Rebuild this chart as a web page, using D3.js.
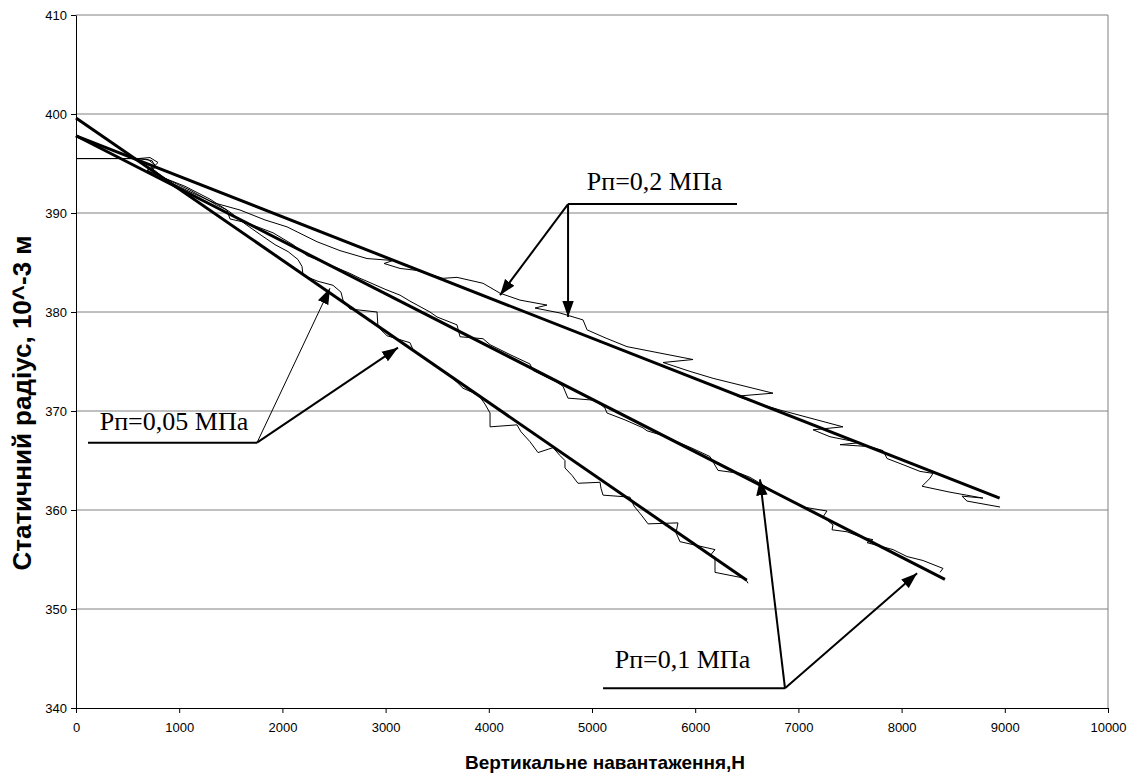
<!DOCTYPE html>
<html>
<head>
<meta charset="utf-8">
<script src="https://cdn.jsdelivr.net/npm/d3@7"></script>
<style>
  body { margin: 0; background: #fff; }
  text { font-family: Arial, "Liberation Sans", sans-serif; }
</style>
</head>
<body>
<svg id="chart" width="1136" height="776"></svg>
<script>
// axis ticks
const xTicks = [0, 1000, 2000, 3000, 4000, 5000, 6000, 7000, 8000, 9000, 10000];
const yTicks = [340, 350, 360, 370, 380, 390, 400, 410];

// regression lines [load N, radius 10^-3 m]
const fit005 = [[0, 399.6], [6500, 352.9]];
const fit01 = [[0, 397.8], [8420, 353.0]];
const fit02 = [[0, 397.8], [8950, 361.2]];

const meas005 = [
  [0, 395.5], [601, 395.5], [736, 395.3], [775, 394.6], [688, 394.3], [814, 393.7],
  [1056, 392.7], [1298, 391.4], [1492, 390.1], [1638, 388.9], [1802, 387.7], [1929, 386.8],
  [2055, 386.1], [2151, 385.3], [2190, 384.6], [2200, 383.7], [2345, 383.1], [2490, 382.7],
  [2568, 382.0], [2587, 381.2], [2655, 380.3], [2917, 380.0], [2926, 378.5], [3014, 377.6],
  [3236, 376.9], [3266, 376.2], [3372, 375.4], [3498, 374.4], [3624, 373.5], [3692, 372.9],
  [3750, 372.3], [3837, 371.9], [3915, 371.4], [3963, 370.7], [4012, 369.8], [4012, 368.4],
  [4273, 368.6], [4312, 367.9], [4399, 366.9], [4477, 365.8], [4622, 366.3], [4690, 365.5],
  [4738, 365.0], [4738, 364.25], [4806, 363.5], [4864, 362.7], [5078, 362.8], [5087, 362.2],
  [5107, 361.5], [5368, 361.3], [5407, 360.4], [5485, 359.4], [5543, 358.6], [5833, 358.7],
  [5814, 357.7], [5853, 356.8], [6192, 356.0], [6153, 355.5], [6192, 355.2], [6192, 353.7],
  [6337, 353.4], [6483, 353.1], [6512, 352.6]
];
const meas01 = [
  [0, 395.5], [601, 395.5], [698, 395.4], [766, 394.85], [688, 394.3], [862, 393.5],
  [1105, 392.3], [1366, 390.8], [1463, 390.3], [1492, 389.4], [1657, 389.0], [1909, 388.0],
  [2103, 386.8], [2238, 385.7], [2335, 385.3], [2587, 384.2], [2655, 383.9], [2752, 383.4],
  [2820, 383.1], [2994, 382.3], [3140, 381.7], [3236, 381.1], [3430, 380.0], [3498, 379.5],
  [3692, 378.7], [3721, 377.5], [3944, 377.3], [4012, 376.7], [4205, 375.7], [4399, 374.75],
  [4428, 374.1], [4661, 372.9], [4719, 372.5], [4767, 371.3], [5010, 371.1], [5078, 370.7],
  [5126, 370.3], [5145, 369.8], [5320, 369.1], [5494, 368.3], [5533, 368.0], [5727, 367.4],
  [5824, 366.9], [5979, 366.2], [6143, 365.4], [6221, 364.0], [6434, 363.7], [6531, 363.3],
  [6628, 362.7], [6851, 361.3], [6919, 361.0], [7045, 360.3], [7277, 359.9], [7238, 359.3],
  [7335, 358.5], [7326, 358.0], [7471, 357.8], [7597, 357.3], [7723, 357.0], [7665, 356.7],
  [7917, 356.0], [8052, 355.3], [8207, 354.9], [8401, 354.1], [8372, 353.7]
];
const meas02 = [
  [0, 395.5], [601, 395.5], [717, 395.6], [795, 395.1], [736, 394.5], [911, 393.1],
  [1134, 392.0], [1347, 391.0], [1589, 390.3], [1831, 389.3], [2045, 388.6], [2335, 387.1],
  [2558, 386.2], [2820, 385.4], [3072, 385.2], [2985, 384.9], [3140, 384.4], [3304, 384.2],
  [3556, 383.4], [3692, 383.5], [3944, 382.9], [4109, 381.9], [4302, 381.2], [4564, 380.7],
  [4448, 380.4], [4690, 379.9], [4913, 379.2], [4952, 378.2], [5126, 377.4], [5339, 376.5],
  [5979, 375.2], [5688, 374.9], [5950, 374.0], [6173, 373.3], [6754, 371.8], [6405, 371.5],
  [6628, 370.7], [6822, 370.1], [7432, 368.4], [7142, 368.1], [7306, 367.4], [7597, 366.8],
  [7403, 366.6], [7694, 366.4], [7820, 366.0], [7859, 365.2], [8033, 364.5], [8178, 363.9],
  [8304, 363.7], [8275, 363.2], [8198, 362.4], [8469, 361.8], [8789, 361.2], [8585, 361.4],
  [8634, 360.9], [8954, 360.3]
];

const labels = ['Рп=0,05 МПа', 'Рп=0,1 МПа', 'Рп=0,2 МПа'];

const svg = d3.select('#chart');
const margin = { top: 15, right: 28, bottom: 68, left: 76 };
const width = 1136 - margin.left - margin.right;
const height = 776 - margin.top - margin.bottom;

const x = d3.scaleLinear().domain([0, 10000]).range([0, width]);
const y = d3.scaleLinear().domain([340, 410]).range([height, 0]);

const g = svg.append('g')
    .attr('transform', `translate(${margin.left},${margin.top})`);

// grid
g.append('g')
    .selectAll('line')
    .data(yTicks.slice(1))
    .enter()
    .append('line')
        .attr('x1', 0)
        .attr('x2', width)
        .attr('y1', d => y(d))
        .attr('y2', d => y(d))
        .attr('stroke', '#808080')
        .attr('stroke-width', 1);

// right border
g.append('line')
    .attr('x1', width).attr('x2', width)
    .attr('y1', 0).attr('y2', height)
    .attr('stroke', '#808080');

// axes
const xAxis = g.append('g')
    .attr('transform', `translate(0,${height})`)
    .call(d3.axisBottom(x).tickValues(xTicks).tickFormat(d3.format('d')).tickSize(5).tickSizeOuter(0));
const yAxis = g.append('g')
    .call(d3.axisLeft(y).tickValues(yTicks).tickSize(5).tickSizeOuter(0));

[xAxis, yAxis].forEach(a => {
    a.select('.domain').attr('stroke', '#000');
    a.selectAll('.tick line').attr('stroke', '#000');
    a.selectAll('.tick text')
        .attr('fill', '#000')
        .style('font-size', '13px')
        .style('font-family', 'Arial, "Liberation Sans", sans-serif');
});
xAxis.selectAll('.tick text').attr('dy', '1.2em');
yAxis.selectAll('.tick text').attr('x', -9);

// axis titles
svg.append('text')
    .attr('x', 605)
    .attr('y', 769)
    .attr('text-anchor', 'middle')
    .style('font-size', '19px')
    .style('font-weight', 'bold')
    .text('Вертикальне навантаження,Н');

svg.append('text')
    .attr('transform', 'translate(31,403) rotate(-90)')
    .attr('text-anchor', 'middle')
    .style('font-size', '26px')
    .style('font-weight', 'bold')
    .text('Статичний радіус, 10^-3 м');

const line = d3.line()
    .x(d => x(d[0]))
    .y(d => y(d[1]));

// measured curves (thin)
g.append('g')
    .selectAll('path')
    .data([meas005, meas01, meas02])
    .enter()
    .append('path')
        .attr('d', line)
        .attr('fill', 'none')
        .attr('stroke', '#000')
        .attr('stroke-width', 1)
        .attr('stroke-linejoin', 'round');

// regression lines (thick)
g.append('g')
    .selectAll('path')
    .data([fit005, fit01, fit02])
    .enter()
    .append('path')
        .attr('d', line)
        .attr('fill', 'none')
        .attr('stroke', '#000')
        .attr('stroke-width', 3);

// arrow marker
svg.append('defs')
    .append('marker')
        .attr('id', 'arrow')
        .attr('viewBox', '0 0 14 10')
        .attr('refX', 14)
        .attr('refY', 5)
        .attr('markerUnits', 'userSpaceOnUse')
        .attr('markerWidth', 16)
        .attr('markerHeight', 12)
        .attr('orient', 'auto')
    .append('path')
        .attr('d', 'M0,0 L14,5 L0,10 Z')
        .attr('fill', '#000');

// annotations: text, leader line, arrows (in data units)
const notes = [
    { label: labels[2], tx: 4950, ty: 392.3, lead: [[4768, 390.9], [6405, 390.9]], from: [4768, 390.9],
      arrows: [[[4109, 381.7], 2], [[4768, 379.5], 2]] },
    { label: labels[0], tx: 230, ty: 368.1, lead: [[116, 366.8], [1754, 366.8]], from: [1754, 366.8],
      arrows: [[[2461, 382.4], 1], [[3120, 376.4], 2]] },
    { label: labels[1], tx: 5220, ty: 344.0, lead: [[5107, 342.0], [6870, 342.0]], from: [6870, 342.0],
      arrows: [[[6628, 363.1], 2], [[8150, 353.6], 2]] }
];

const ann = g.append('g');
notes.forEach(n => {
    ann.append('text')
        .attr('x', x(n.tx))
        .attr('y', y(n.ty))
        .style('font-family', '"Times New Roman", "Liberation Serif", serif')
        .style('font-size', '26px')
        .text(n.label);
    ann.append('path')
        .attr('d', line(n.lead))
        .attr('stroke', '#000')
        .attr('stroke-width', 2);
    n.arrows.forEach(a => {
        ann.append('line')
            .attr('x1', x(n.from[0]))
            .attr('y1', y(n.from[1]))
            .attr('x2', x(a[0][0]))
            .attr('y2', y(a[0][1]))
            .attr('stroke', '#000')
            .attr('stroke-width', a[1])
            .attr('marker-end', 'url(#arrow)');
    });
});
</script>
</body>
</html>
